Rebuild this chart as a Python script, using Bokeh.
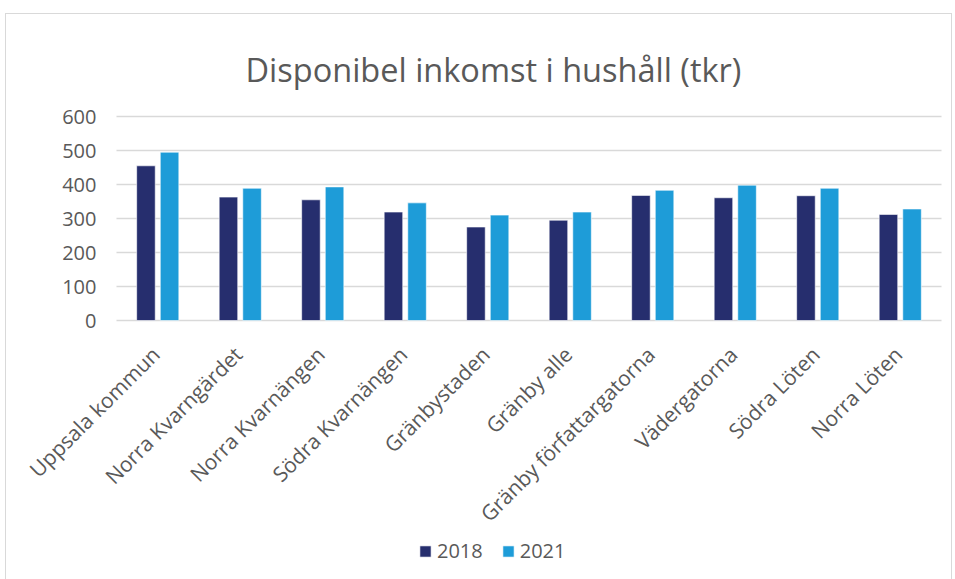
from math import pi
from bokeh.plotting import figure
from bokeh.models import ColumnDataSource, Range1d, Legend, LegendItem, Label, LabelSet
from bokeh.core.properties import value
from bokeh.embed import file_html
from bokeh.resources import INLINE

categories = ["Uppsala kommun", "Norra Kvarngärdet", "Norra Kvarnängen", "Södra Kvarnängen",
              "Gränbystaden", "Gränby alle", "Gränby författargatorna", "Vädergatorna",
              "Södra Löten", "Norra Löten"]
years = ["2018", "2021"]
v2018 = [455, 363, 355, 319, 275, 295, 368, 361, 367, 312]
v2021 = [495, 389, 393, 346, 310, 319, 383, 398, 389, 328]
y_ticks = [0, 100, 200, 300, 400, 500, 600]
title = "Disponibel inkomst i hushåll (tkr)"

c2018 = "#262e6e"
c2021 = "#1e9cd8"
font = "Open Sans"
txt = "#595959"

# layout: the frame covers the whole chart; the value block sits inside it
W, H = 947, 567
n = len(categories)
px_per_cat = 82.5
px_per_unit = 204 / 600
left_px, top_px = 110, 102          # value block offset from the chart's top-left
x_min = -left_px / px_per_cat
x_max = x_min + W / px_per_cat
y_max = y_ticks[-1] + top_px / px_per_unit
y_min = y_max - H / px_per_unit

cat_x = [i + 0.5 for i in range(n)]
bar_w = 0.225
off = 0.143
src = ColumnDataSource(dict(cat=categories, x=cat_x,
                            x1=[c - off for c in cat_x], x2=[c + off for c in cat_x],
                            v2018=v2018, v2021=v2021, base=[0] * n))
tick_src = ColumnDataSource(dict(y=y_ticks, lab=[str(t) for t in y_ticks],
                                 x0=[0] * len(y_ticks), x1=[n] * len(y_ticks)))

p = figure(width=W, height=H, x_range=Range1d(x_min, x_max), y_range=Range1d(y_min, y_max),
           output_backend="svg", toolbar_location=None,
           min_border_left=0, min_border_right=0, min_border_top=0, min_border_bottom=0)

p.axis.visible = False
p.grid.visible = False
p.outline_line_color = None

p.add_layout(Label(x=x_min + 239 / px_per_cat, y=y_max - 55 / px_per_unit, text=title,
                   text_align="left", text_baseline="alphabetic", text_font=font,
                   text_font_size="32.5px", text_color=txt))

# gridlines at the value ticks
p.segment(x0="x0", x1="x1", y0="y", y1="y", source=tick_src, line_color="#d9d9d9", line_width=1.5)

r1 = p.vbar(x="x1", top="v2018", bottom="base", width=bar_w, source=src,
            fill_color=c2018, line_color="white", line_width=0.6)
r2 = p.vbar(x="x2", top="v2021", bottom="base", width=bar_w, source=src,
            fill_color=c2021, line_color="white", line_width=0.6)

ylabels = LabelSet(x="x0", y="y", text="lab", source=tick_src, x_offset=-20,
                   text_align="right", text_baseline="middle",
                   text_font=value(font), text_font_size="20px", text_color=txt)
p.add_layout(ylabels)

cat_labels = LabelSet(x="x", y="base", text="cat", source=src, angle=pi / 4,
                      text_align="right", text_baseline="middle", x_offset=-2, y_offset=-30,
                      text_font=value(font), text_font_size="21px", text_color=txt)
p.add_layout(cat_labels)

legend = Legend(items=[LegendItem(label=years[0], renderers=[r1]),
                       LegendItem(label=years[1], renderers=[r2])],
                orientation="horizontal", location=(412, 17),
                label_text_font=font, label_text_font_size="20px", label_text_color=txt,
                glyph_width=14, glyph_height=14, spacing=18, label_standoff=5,
                label_height=14, border_line_color=None, background_fill_alpha=0,
                margin=0, padding=0)
p.add_layout(legend, "center")

p.styles = {"border": "1px solid #d9d9d9", "margin-left": "5px", "margin-top": "13px"}

open("out.html", "w").write(file_html(p, INLINE))
